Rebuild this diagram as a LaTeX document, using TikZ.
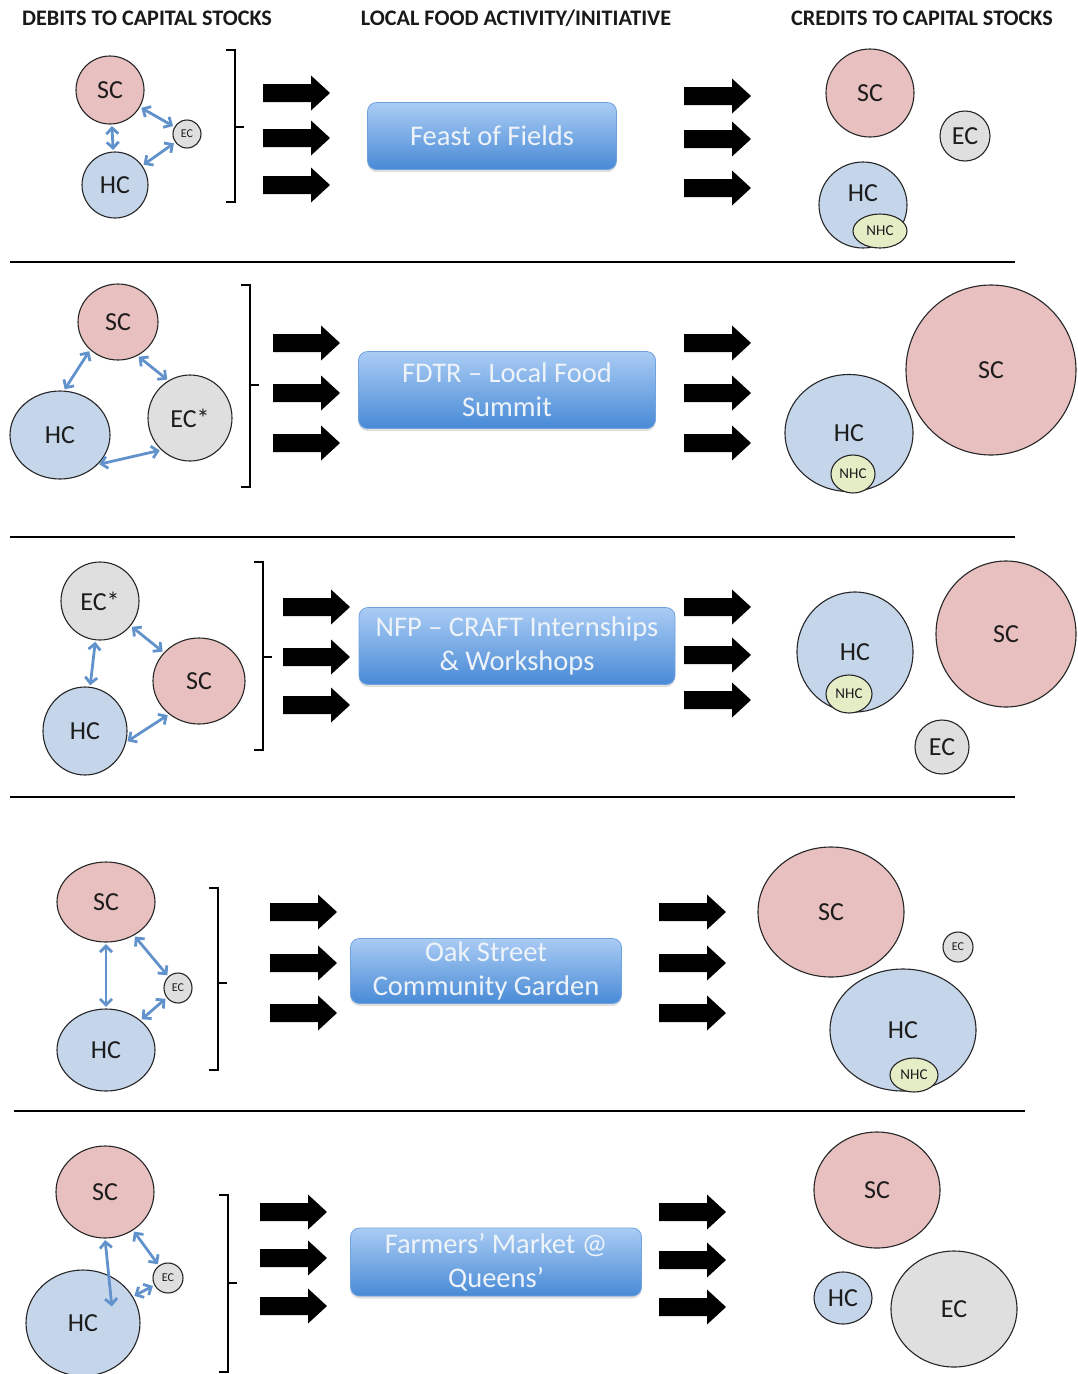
\documentclass[tikz,border=0pt]{standalone}
\usepackage{fontspec}
\setmainfont{Carlito}
\usetikzlibrary{shapes.geometric,arrows.meta,shadows}

\definecolor{scfill}{RGB}{232,192,192}
\definecolor{hcfill}{RGB}{197,214,235}
\definecolor{ecfill}{RGB}{223,223,223}
\definecolor{nhcfill}{RGB}{229,237,198}
\definecolor{linkblue}{RGB}{98,146,204}
\definecolor{boxtop}{RGB}{170,204,244}
\definecolor{boxbot}{RGB}{72,138,214}
\definecolor{boxedge}{RGB}{112,162,222}
\definecolor{boxtext}{RGB}{238,243,250}
\definecolor{labeltext}{RGB}{28,28,28}

\tikzset{
  stock/.style={ellipse, draw=black!85, line width=1.1pt, inner sep=0pt,
    text=labeltext, font=\fontsize{26}{28}\selectfont},
  wh/.style 2 args={minimum width=#1pt, minimum height=#2pt},
  sc/.style={stock, fill=scfill},
  hc/.style={stock, fill=hcfill},
  ec/.style={stock, fill=ecfill},
  nhc/.style={stock, fill=nhcfill, font=\fontsize{15}{17}\selectfont},
  minor/.style={font=\fontsize{12}{14}\selectfont},
  link/.style={draw=linkblue, line width=2.8pt,
    {Straight Barb[length=6pt,width=12pt]}-{Straight Barb[length=6pt,width=12pt]},
    shorten <=1.5pt, shorten >=1.5pt},
  activity/.style={rectangle, rounded corners=9pt, draw=boxedge, line width=0.8pt,
    top color=boxtop, bottom color=boxbot, text=boxtext, align=center,
    inner sep=0pt, font=\fontsize{28.5}{34}\selectfont,
    drop shadow={shadow xshift=0pt, shadow yshift=-2.5pt, opacity=0.25}},
  bracketline/.style={line width=1.8pt, draw=black},
  rule/.style={line width=2.6pt, draw=black},
  header/.style={font=\bfseries\fontsize{22.2}{24}\selectfont, text=black!90},
}

% thick black block arrow: left end x, centre y
\newcommand{\blockarrow}[2]{%
  \fill (#1,#2-9) -- (#1+48,#2-9) -- (#1+48,#2-17.5) -- (#1+67,#2)
        -- (#1+48,#2+17.5) -- (#1+48,#2+9) -- (#1,#2+9) -- cycle;}
% right bracket with a middle tick: x, top, bottom, tick y
\newcommand{\rbracket}[4]{%
  \draw[bracketline] (#1-9,#2) -- (#1,#2) -- (#1,#3) -- (#1-9,#3)
        (#1,#4) -- (#1+9,#4);}

\begin{document}
\begin{tikzpicture}[x=1pt, y=-1pt]
\useasboundingbox (0,0) rectangle (1077,1374);

% column headings
\node[header] (h1) at (147,18) {DEBITS TO CAPITAL STOCKS};
\node[header] (h2) at (516,18) {LOCAL FOOD ACTIVITY/INITIATIVE};
\node[header] (h3) at (922,18) {CREDITS TO CAPITAL STOCKS};

% row separators
\draw[rule] (10,262) -- (1015,262);
\draw[rule] (10,537) -- (1015,537);
\draw[rule] (10,797) -- (1015,797);
\draw[rule] (14,1111) -- (1025,1111);

% ---------------- Feast of Fields ----------------
\node[sc, wh={68}{68}] (sc1) at (110,90) {SC};
\node[hc, wh={66}{66}] (hc1) at (115,185) {HC};
\node[ec, wh={28}{28}, minor] (ec1) at (187,134) {EC};
\draw[link] (sc1) -- (hc1);
\draw[link] (sc1) -- (ec1);
\draw[link] (hc1) -- (ec1);
\rbracket{235}{50}{202}{127}
\blockarrow{263}{93}\blockarrow{263}{138}\blockarrow{263}{185}
\node[activity, wh={249}{67}] (a1) at (492,136) {Feast of Fields};
\blockarrow{684}{96}\blockarrow{684}{139}\blockarrow{684}{188}
\node[sc, wh={88}{88}] (sr1) at (870,93) {SC};
\node[ec, wh={50}{50}] (er1) at (965,136) {EC};
\node[hc, wh={88}{86}, text depth=24pt] (hr1) at (863,205) {HC};
\node[nhc, wh={54}{34}] (nr1) at (880,231) {NHC};

% ---------------- FDTR ----------------
\node[sc, wh={80}{76}] (sc2) at (118,322) {SC};
\node[hc, wh={100}{88}] (hc2) at (60,435) {HC};
\node[ec, wh={84}{86}] (ec2) at (190,418) {EC*};
\draw[link] (sc2.225) -- (hc2.85);
\draw[link] (sc2.300) -- (ec2.120);
\draw[link] (hc2.-38) -- (ec2.228);
\rbracket{250}{285}{487}{385}
\blockarrow{273}{343}\blockarrow{273}{393}\blockarrow{273}{443}
\node[activity, wh={297}{77}] (a2) at (507,390) {FDTR -- Local Food\\Summit};
\blockarrow{684}{343}\blockarrow{684}{393}\blockarrow{684}{443}
\node[hc, wh={128}{117}] (hr2) at (849,433) {HC};
\node[nhc, wh={44}{38}] (nr2) at (853,474) {NHC};
\node[sc, wh={170}{170}] (sr2) at (991,370) {SC};

% ---------------- NFP ----------------
\node[ec, wh={78}{78}] (ec3) at (100,601) {EC*};
\node[sc, wh={92}{86}] (sc3) at (199,681) {SC};
\node[hc, wh={84}{88}] (hc3) at (85,731) {HC};
\draw[link] (ec3) -- (hc3);
\draw[link] (ec3) -- (sc3);
\draw[link] (hc3.-15) -- (sc3.228);
\rbracket{263}{562}{750}{657}
\blockarrow{283}{607}\blockarrow{283}{657}\blockarrow{283}{705}
\node[activity, wh={316}{77}] (a3) at (517,646) {NFP -- CRAFT Internships\\\& Workshops};
\blockarrow{684}{607}\blockarrow{684}{655}\blockarrow{684}{700}
\node[hc, wh={116}{120}] (hr3) at (855,652) {HC};
\node[nhc, wh={46}{38}] (nr3) at (849,694) {NHC};
\node[sc, wh={140}{146}] (sr3) at (1006,634) {SC};
\node[ec, wh={54}{54}] (er3) at (942,747) {EC};

% ---------------- Oak Street ----------------
\node[sc, wh={98}{80}] (sc4) at (106,902) {SC};
\node[hc, wh={98}{82}] (hc4) at (106,1050) {HC};
\node[ec, wh={28}{30}, minor] (ec4) at (178,988) {EC};
\draw[link] (sc4) -- (hc4);
\draw[link] (sc4) -- (ec4);
\draw[link] (hc4) -- (ec4);
\rbracket{218}{888}{1070}{983}
\blockarrow{270}{912}\blockarrow{270}{963}\blockarrow{270}{1013}
\node[activity, wh={271}{65}] (a4) at (486,971) {Oak Street\\Community Garden};
\blockarrow{659}{912}\blockarrow{659}{963}\blockarrow{659}{1013}
\node[sc, wh={146}{130}] (sr4) at (831,912) {SC};
\node[ec, wh={30}{30}, minor] (er4) at (958,947) {EC};
\node[hc, wh={146}{122}] (hr4) at (903,1030) {HC};
\node[nhc, wh={48}{34}] (nr4) at (914,1075) {NHC};

% ---------------- Farmers' Market ----------------
\node[sc, wh={98}{92}] (sc5) at (105,1192) {SC};
\node[hc, wh={114}{106}] (hc5) at (83,1323) {HC};
\node[ec, wh={30}{30}, minor] (ec5) at (168,1278) {EC};
\coordinate (in5) at (112,1308);
\draw[link] (sc5.south) -- (in5);
\draw[link] (sc5) -- (ec5);
\draw[link] (hc5) -- (ec5);
\rbracket{228}{1195}{1372}{1283}
\blockarrow{260}{1212}\blockarrow{260}{1258}\blockarrow{260}{1306}
\node[activity, wh={291}{68}] (a5) at (496,1262) {Farmers’ Market @\\Queens’};
\blockarrow{659}{1212}\blockarrow{659}{1260}\blockarrow{659}{1307}
\node[sc, wh={126}{116}] (sr5) at (877,1190) {SC};
\node[hc, wh={58}{52}] (hr5) at (843,1298) {HC};
\node[ec, wh={126}{116}] (er5) at (954,1309) {EC};
\end{tikzpicture}
\end{document}
